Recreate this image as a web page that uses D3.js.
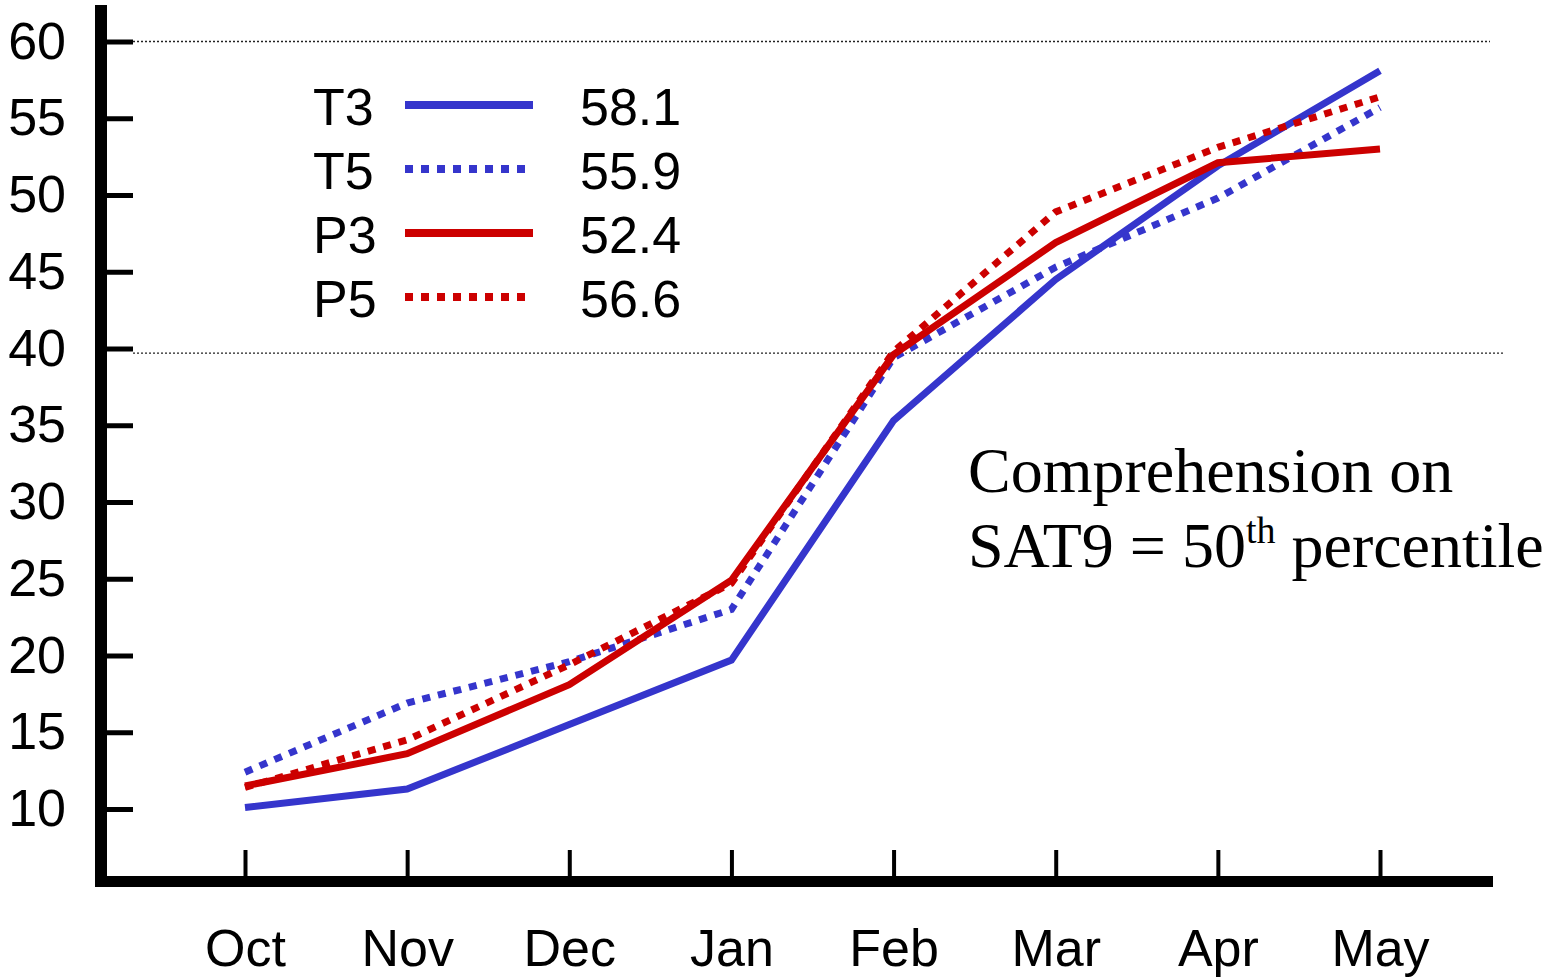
<!DOCTYPE html>
<html>
<head>
<meta charset="utf-8">
<script src="https://cdn.jsdelivr.net/npm/d3@7"></script>
<style>
  html, body { margin: 0; padding: 0; background: #fff; }
  svg { display: block; }
</style>
</head>
<body>
<script>
// ---- data ----
const months = ["Oct", "Nov", "Dec", "Jan", "Feb", "Mar", "Apr", "May"];
const yTicks = [10, 15, 20, 25, 30, 35, 40, 45, 50, 55, 60];
const gridValues = [60, 39.7];
const seriesNames = ["T3", "T5", "P3", "P5"];
const legendValues = ["58.1", "55.9", "52.4", "56.6"];
const t3 = [10.1, 11.3, 15.5, 19.7, 35.3, 44.5, 51.9, 58.1];
const t5 = [12.4, 16.9, 19.6, 23.0, 39.4, 45.3, 49.8, 55.7];
const p3 = [11.5, 13.6, 18.1, 24.9, 39.6, 46.9, 52.1, 53.0];
const p5 = [11.4, 14.5, 19.4, 24.7, 39.8, 48.9, 53.1, 56.4];
const annotationLine1 = "Comprehension on";
const annotationLine2a = "SAT9 = 50";
const annotationSup = "th";
const annotationLine2b = " percentile";

const series = [
  { name: seriesNames[0], values: t3, color: "#3535CC", dash: null },
  { name: seriesNames[1], values: t5, color: "#3535CC", dash: "8,8" },
  { name: seriesNames[2], values: p3, color: "#CC0000", dash: null },
  { name: seriesNames[3], values: p5, color: "#CC0000", dash: "8,8" }
];

const W = 1556, H = 977;
const svg = d3.select("body").append("svg").attr("width", W).attr("height", H);
const sans = "'Liberation Sans', Arial, sans-serif";
const serif = "'Liberation Serif', 'Times New Roman', serif";

const x = d3.scalePoint().domain(months).range([245, 1380]);
const y = d3.scaleLinear().domain([10, 60]).range([809, 41.5]);

// gridlines
const gridEnds = [1490, 1505];
svg.append("g").selectAll("line").data(gridValues).join("line")
  .attr("x1", 133).attr("x2", (d, i) => gridEnds[i])
  .attr("y1", d => y(d)).attr("y2", d => y(d))
  .attr("stroke", "#222").attr("stroke-width", 1.3).attr("stroke-dasharray", "2,2");

// y axis ticks + labels
const yAxis = svg.append("g").attr("transform", "translate(133,0)")
  .call(d3.axisLeft(y).tickValues(yTicks).tickSize(26).tickPadding(41).tickFormat(d3.format("d")));
yAxis.select(".domain").remove();
yAxis.selectAll(".tick line").attr("stroke", "#000").attr("stroke-width", 5);
yAxis.selectAll(".tick text").attr("font-family", sans).attr("font-size", 52).attr("fill", "#000");

// x axis ticks + labels
const xAxis = svg.append("g").attr("transform", "translate(0,850)")
  .call(d3.axisBottom(x).tickSize(26).tickPadding(53));
xAxis.select(".domain").remove();
xAxis.selectAll(".tick line").attr("stroke", "#000").attr("stroke-width", 4);
xAxis.selectAll(".tick text").attr("font-family", sans).attr("font-size", 52).attr("fill", "#000");

// thick axis lines
svg.append("rect").attr("x", 95).attr("y", 5).attr("width", 12).attr("height", 882).attr("fill", "#000");
svg.append("rect").attr("x", 95).attr("y", 876).attr("width", 1398).attr("height", 11).attr("fill", "#000");

// series lines
const line = d3.line().x((d, i) => x(months[i])).y(d => y(d));
svg.append("g").selectAll("path").data(series).join("path")
  .attr("d", d => line(d.values))
  .attr("fill", "none")
  .attr("stroke", d => d.color)
  .attr("stroke-width", 7)
  .attr("stroke-dasharray", d => d.dash)
  .attr("stroke-linejoin", "miter");

// legend
const legend = svg.append("g");
const rows = legend.selectAll("g").data(series).join("g")
  .attr("transform", (d, i) => `translate(0,${125 + i * 64})`);
rows.append("text").attr("x", 313).attr("y", 0).text(d => d.name)
  .attr("font-family", sans).attr("font-size", 52).attr("fill", "#000");
rows.append("line").attr("x1", 405).attr("x2", 533).attr("y1", -20).attr("y2", -20)
  .attr("stroke", d => d.color).attr("stroke-width", 8).attr("stroke-dasharray", d => d.dash);
rows.append("text").attr("x", 580).attr("y", 0).text((d, i) => legendValues[i])
  .attr("font-family", sans).attr("font-size", 52).attr("fill", "#000");

// annotation
svg.append("text").attr("x", 968).attr("y", 492)
  .attr("font-family", serif).attr("font-size", 64).attr("fill", "#000")
  .text(annotationLine1);
const t2 = svg.append("text").attr("x", 968).attr("y", 567)
  .attr("font-family", serif).attr("font-size", 64).attr("fill", "#000");
t2.append("tspan").text(annotationLine2a);
t2.append("tspan").attr("font-size", 38).attr("dy", -24).text(annotationSup);
t2.append("tspan").attr("dy", 24).text(annotationLine2b);
</script>
</body>
</html>
